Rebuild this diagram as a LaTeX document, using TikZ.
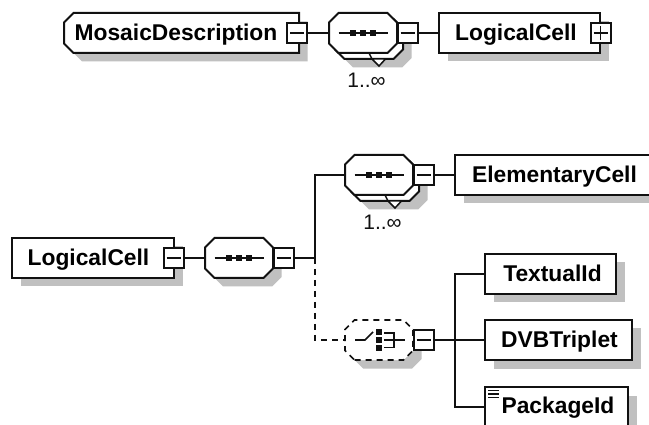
\documentclass[tikz,border=0pt]{standalone}
\usepackage{fontspec}
\setmainfont{Liberation Sans}
\usetikzlibrary{shadows}
\definecolor{shgray}{HTML}{C0C0C0}
\definecolor{ink}{HTML}{111111}
\makeatletter
\pgfdeclareshape{octobox}{
  \inheritsavedanchors[from=rectangle]
  \inheritanchorborder[from=rectangle]
  \inheritanchor[from=rectangle]{center}
  \inheritanchor[from=rectangle]{north}
  \inheritanchor[from=rectangle]{south}
  \inheritanchor[from=rectangle]{west}
  \inheritanchor[from=rectangle]{east}
  \backgroundpath{
    \southwest \pgf@xa=\pgf@x \pgf@ya=\pgf@y
    \northeast \pgf@xb=\pgf@x \pgf@yb=\pgf@y
    \def\cutsz{9.5pt}
    \pgfpathmoveto{\pgfpoint{\pgf@xa+\cutsz}{\pgf@ya}}
    \pgfpathlineto{\pgfpoint{\pgf@xb-\cutsz}{\pgf@ya}}
    \pgfpathlineto{\pgfpoint{\pgf@xb}{\pgf@ya+\cutsz}}
    \pgfpathlineto{\pgfpoint{\pgf@xb}{\pgf@yb-\cutsz}}
    \pgfpathlineto{\pgfpoint{\pgf@xb-\cutsz}{\pgf@yb}}
    \pgfpathlineto{\pgfpoint{\pgf@xa+\cutsz}{\pgf@yb}}
    \pgfpathlineto{\pgfpoint{\pgf@xa}{\pgf@yb-\cutsz}}
    \pgfpathlineto{\pgfpoint{\pgf@xa}{\pgf@ya+\cutsz}}
    \pgfpathclose
  }
}
\pgfdeclareshape{leftcutbox}{
  \inheritsavedanchors[from=rectangle]
  \inheritanchorborder[from=rectangle]
  \inheritanchor[from=rectangle]{center}
  \inheritanchor[from=rectangle]{north}
  \inheritanchor[from=rectangle]{south}
  \inheritanchor[from=rectangle]{west}
  \inheritanchor[from=rectangle]{east}
  \backgroundpath{
    \southwest \pgf@xa=\pgf@x \pgf@ya=\pgf@y
    \northeast \pgf@xb=\pgf@x \pgf@yb=\pgf@y
    \def\cutsz{9.5pt}
    \pgfpathmoveto{\pgfpoint{\pgf@xa+\cutsz}{\pgf@ya}}
    \pgfpathlineto{\pgfpoint{\pgf@xb}{\pgf@ya}}
    \pgfpathlineto{\pgfpoint{\pgf@xb}{\pgf@yb}}
    \pgfpathlineto{\pgfpoint{\pgf@xa+\cutsz}{\pgf@yb}}
    \pgfpathlineto{\pgfpoint{\pgf@xa}{\pgf@yb-\cutsz}}
    \pgfpathlineto{\pgfpoint{\pgf@xa}{\pgf@ya+\cutsz}}
    \pgfpathclose
  }
}
\makeatother
\tikzset{
  sh/.style={copy shadow={shadow xshift=8.5pt,shadow yshift=-8.5pt,fill=shgray,draw=none}},
  base/.style={draw=ink,line width=2pt,fill=white,inner sep=0pt,outer sep=0pt,minimum height=40pt},
  elem/.style={base,rectangle,sh,minimum width=#1},
  rootel/.style={base,sh,shape=leftcutbox,minimum width=#1},
  octa/.style={base,shape=octobox,minimum width=68pt},
  dashoct/.style={octa,dash pattern=on 6pt off 5pt,line width=1.7pt},
  ctrl/.style={draw=ink,line width=2pt,fill=white,rectangle,inner sep=0pt,outer sep=0pt,minimum width=20pt,minimum height=20pt},
  minusbox/.style={ctrl,path picture={\draw[line width=1.5pt,draw=ink]
     ([xshift=3pt]path picture bounding box.west)--([xshift=-3pt]path picture bounding box.east);}},
  plusbox/.style={ctrl,path picture={\draw[line width=1.5pt,draw=ink]
     ([xshift=3pt]path picture bounding box.west)--([xshift=-3pt]path picture bounding box.east)
     ([yshift=-3pt]path picture bounding box.north)--([yshift=3pt]path picture bounding box.south);}},
  name text/.style={font=\fontsize{22.8}{24}\selectfont\bfseries,text=black,inner sep=0pt,anchor=base},
  card text/.style={font=\fontsize{21}{24}\selectfont,text=ink,inner sep=0pt},
  wire/.style={draw=ink,line width=2pt},
  dwire/.style={wire,dash pattern=on 6pt off 5pt},
  tri/.style={draw=ink,line width=1.5pt,fill=white},
  seqicon/.pic={
    \draw[wire] (-24.5,0)--(24.5,0);
    \foreach \d in {-10,0,10}{\fill[ink] (\d-3,-3) rectangle (\d+3,3);}
  },
  choiceicon/.pic={
    \draw[wire,line width=1.6pt] (-24,0)--(-14,0)--(-6,-8);
    \foreach \d in {-8,0,8}{\fill[ink] (-3,\d-2.7) rectangle (2.5,\d+2.7);}
    \draw[wire,line width=1.6pt] (5,-7)--(15,-7)--(15,7.5)--(5,7.5) (5,0)--(26,0);
  }
}
\begin{document}
\begin{tikzpicture}[x=1pt,y=-1pt]
\clip (0,0) rectangle (649,425);
\fill[white] (0,0) rectangle (649,425);

% --- upper diagram
\node[rootel=235pt] (md) at (181.5,33) {};
\node[name text] (mdt) at (176,41) {MosaicDescription};
\node[minusbox] (mdb) at (297,33) {};
\node[octa,sh] (s1r) at (369,39) {};
\draw[tri] (372,59)--(379,66)--(385.5,59)--cycle;
\draw[tri] (369,53)--(372,59);
\node[octa] (s1) at (363,33) {};
\pic at (s1) {seqicon};
\node[minusbox] (s1b) at (407.5,33) {};
\node[card text] (c1) at (366.5,80.5) {1..∞};
\node[elem=161pt] (lc1) at (519.5,33) {};
\node[name text] (lc1t) at (516,41) {LogicalCell};
\node[plusbox] (lc1b) at (600.5,33) {};
\draw[wire] (mdb.east)--(s1.west);
\draw[wire] (s1b.east)--(lc1.west);

% --- lower diagram
\node[elem=162pt] (lc2) at (93,258) {};
\node[name text] (lc2t) at (88.5,265.5) {LogicalCell};
\node[minusbox] (lc2b) at (173.5,258) {};
\node[octa,sh] (s2) at (239,258) {};
\pic at (s2) {seqicon};
\node[minusbox] (s2b) at (283.5,258) {};
\draw[wire] (lc2b.east)--(s2.west);
\coordinate (bus) at (315,258);
\draw[wire] (s2b.east)--(bus);

\node[octa,sh] (s3r) at (385,181) {};
\draw[tri] (388,201)--(395,208)--(401.5,201)--cycle;
\draw[tri] (385,195)--(388,201);
\node[octa] (s3) at (379,175) {};
\pic at (s3) {seqicon};
\node[minusbox] (s3b) at (423.5,175) {};
\node[card text] (c2) at (382.5,222.5) {1..∞};
\node[elem=240pt] (ec) at (575,175) {};
\node[name text] (ect) at (554.5,183) {ElementaryCell};
\draw[wire] (s3b.east)--(ec.west);
\draw[wire] (bus)|-(s3.west);

\node[dashoct,sh] (ch) at (379,340) {};
\pic at (ch) {choiceicon};
\node[minusbox] (chb) at (423.5,340) {};
\draw[dwire] (bus)|-(ch.west);

\node[elem=131pt] (tid) at (550.5,274) {};
\node[name text] (tidt) at (552.5,281.5) {TextualId};
\node[elem=147pt] (dvb) at (558.5,340) {};
\node[name text] (dvbt) at (559.5,347.5) {DVBTriplet};
\node[elem=143pt] (pid) at (556.5,407) {};
\node[name text] (pidt) at (558,413.5) {PackageId};
\draw[wire,line width=1.3pt] (488,390.5)--(499,390.5) (488,394)--(499,394) (488,397.5)--(499,397.5);
\coordinate (cbus) at (455,340);
\draw[wire] (chb.east)--(cbus);
\draw[wire] (cbus)--(dvb.west);
\draw[wire] (tid.west)-|(cbus);
\draw[wire] (pid.west)-|(cbus);
\end{tikzpicture}
\end{document}
